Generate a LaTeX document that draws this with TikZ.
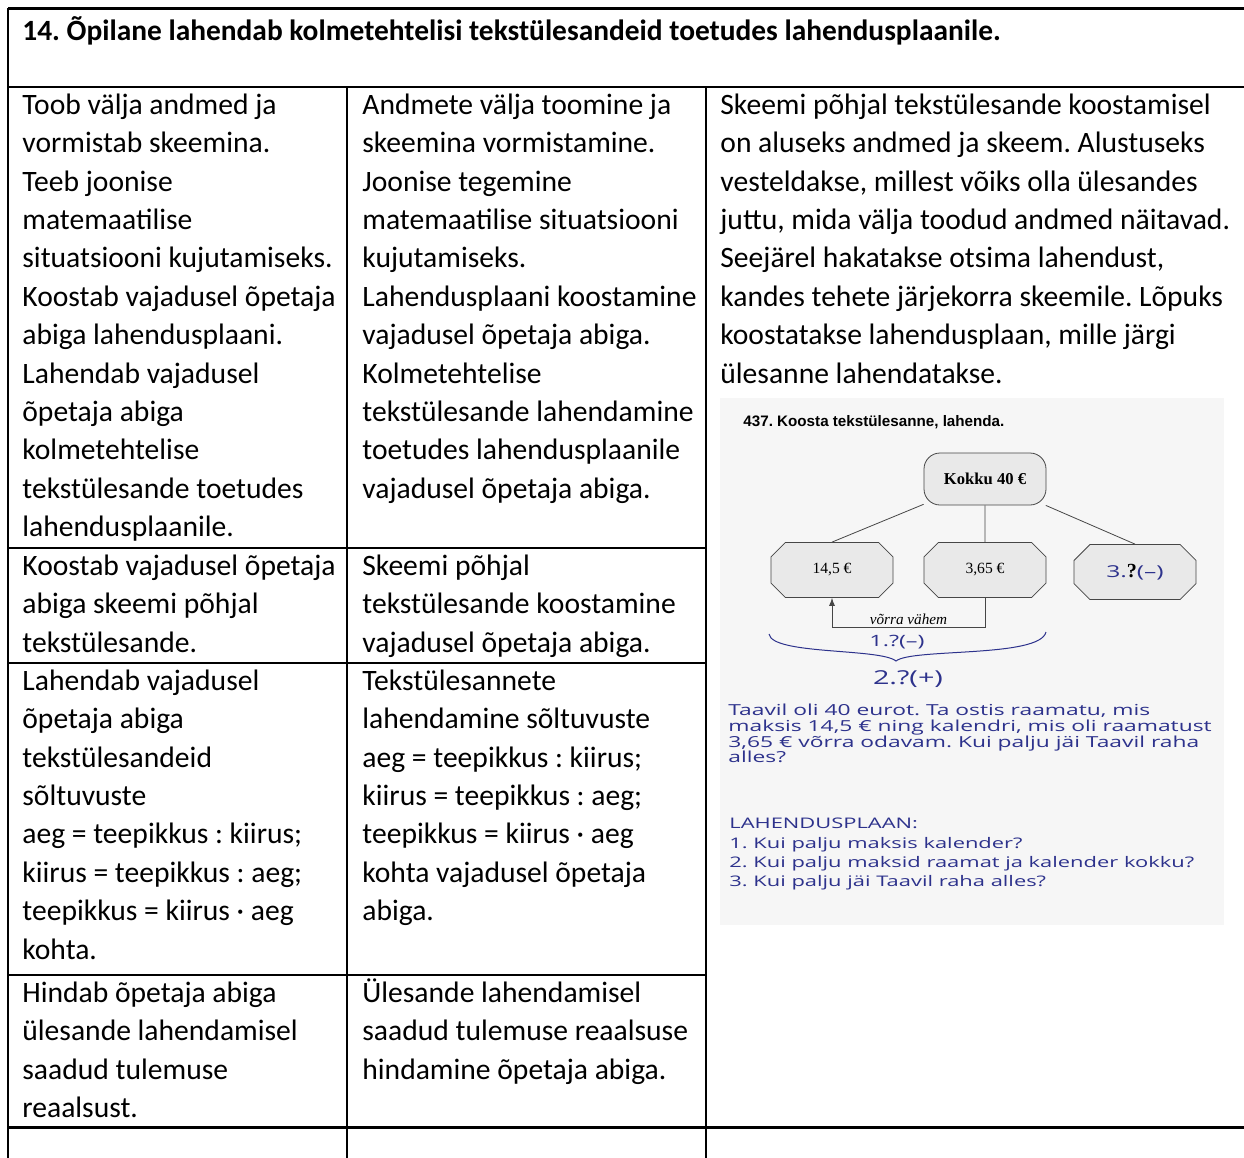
\documentclass[tikz,border=0pt]{standalone}
\usepackage{fontspec}
\setmainfont{Carlito}
\newfontfamily\bookfont{Liberation Serif}
\newfontfamily\printfont{Liberation Sans}
\newfontfamily\handfont[FakeStretch=1.5]{Open Sans}
\usetikzlibrary{shapes.misc}
\definecolor{ink}{RGB}{45,50,140}
\definecolor{scan}{RGB}{246,246,246}
\definecolor{boxgray}{RGB}{233,233,233}
\definecolor{boxline}{RGB}{70,70,70}
\newcommand\handsize[2]{\handfont\fontsize{#1}{#2}\selectfont\lineskiplimit=-5pt\relax}
\frenchspacing

\begin{document}
\begin{tikzpicture}[x=0.5pt, y=-0.5pt,
    celltext/.style={anchor=north west, inner sep=0pt, align=left,
      font=\fontsize{14.8}{19.2}\selectfont},
    gridline/.style={line width=1pt},
    hand/.style={inner sep=0pt, text=ink, align=left},
    octbox/.style={chamfered rectangle, chamfered rectangle sep=4pt,
      draw=boxline, fill=boxgray, minimum width=61pt, minimum height=27.5pt,
      inner sep=0pt, font=\bookfont\fontsize{7.8}{9}\selectfont}]
  \useasboundingbox (0,0) rectangle (1244,1158);

  % table
  \draw[gridline, line width=1.5pt] (8,8) -- (1244,8);
  \draw[gridline] (8,8) -- (8,1158);
  \draw[gridline] (8,87) -- (1244,87);
  \draw[gridline] (347,87) -- (347,1158);
  \draw[gridline] (706,87) -- (706,1158);
  \draw[gridline] (8,548) -- (706,548);
  \draw[gridline] (8,663) -- (706,663);
  \draw[gridline] (8,975) -- (706,975);
  \draw[gridline, line width=1.5pt] (8,1127) -- (1244,1127);

  \node (title) [anchor=base west, inner sep=0pt,
    font=\bfseries\fontsize{14.7}{19.2}\selectfont] at (22,40)
    {14. Õpilane lahendab kolmetehtelisi tekstülesandeid toetudes lahendusplaanile.};

  \node (skillA) [celltext] at (22,87) {\strut Toob välja andmed ja\\
    vormistab skeemina.\\ Teeb joonise\\ matemaatilise\\
    situatsiooni kujutamiseks.\\ Koostab vajadusel õpetaja\\
    abiga lahendusplaani.\\ Lahendab vajadusel\\ õpetaja abiga\\
    kolmetehtelise\\ tekstülesande toetudes\\ lahendusplaanile.};
  \node (workA) [celltext] at (362,87) {\strut Andmete välja toomine ja\\
    skeemina vormistamine.\\ Joonise tegemine\\
    matemaatilise situatsiooni\\ kujutamiseks.\\
    Lahendusplaani koostamine\\ vajadusel õpetaja abiga.\\
    Kolmetehtelise\\ tekstülesande lahendamine\\
    toetudes lahendusplaanile\\ vajadusel õpetaja abiga.};
  \node (note) [celltext] at (720,87) {\strut Skeemi põhjal tekstülesande koostamisel\\
    on aluseks andmed ja skeem. Alustuseks\\
    vesteldakse, millest võiks olla ülesandes\\
    juttu, mida välja toodud andmed näitavad.\\
    Seejärel hakatakse otsima lahendust,\\
    kandes tehete järjekorra skeemile. Lõpuks\\
    koostatakse lahendusplaan, mille järgi\\
    ülesanne lahendatakse.};

  \node (skillB) [celltext] at (22,548) {\strut Koostab vajadusel õpetaja\\
    abiga skeemi põhjal\\ tekstülesande.};
  \node (workB) [celltext] at (362,548) {\strut Skeemi põhjal\\
    tekstülesande koostamine\\ vajadusel õpetaja abiga.};

  \node (skillC) [celltext] at (22,663) {\strut Lahendab vajadusel\\
    õpetaja abiga\\ tekstülesandeid\\ sõltuvuste\\
    aeg = teepikkus : kiirus;\\ kiirus = teepikkus : aeg;\\
    teepikkus = kiirus · aeg\\ kohta.};
  \node (workC) [celltext] at (362,663) {\strut Tekstülesannete\\
    lahendamine sõltuvuste\\ aeg = teepikkus : kiirus;\\
    kiirus = teepikkus : aeg;\\ teepikkus = kiirus · aeg\\
    kohta vajadusel õpetaja\\ abiga.};

  \node (skillD) [celltext] at (22,975) {\strut Hindab õpetaja abiga\\
    ülesande lahendamisel\\ saadud tulemuse\\ reaalsust.};
  \node (workD) [celltext] at (362,975) {\strut Ülesande lahendamisel\\
    saadud tulemuse reaalsuse\\ hindamine õpetaja abiga.};

  % scanned example
  \fill[scan] (720,398) rectangle (1224,925);
  \node (task) [anchor=base west, inner sep=0pt,
    font=\printfont\bfseries\fontsize{7.6}{9}\selectfont] at (743,426)
    {437. Koosta tekstülesanne, lahenda.};

  \node (total) [draw=boxline, fill=boxgray, rounded corners=8pt,
    minimum width=61pt, minimum height=26pt,
    font=\bookfont\bfseries\fontsize{8.3}{10}\selectfont] at (985,479) {Kokku 40 €};
  \node (book) [octbox] at (832,570) {14,5 €};
  \node (cal) [octbox] at (985,570) {3,65 €};
  \node (rest) [octbox] at (1135,572)
    {{\color{ink}\handsize{8.2}{11}3.}%
     {\bookfont\bfseries\fontsize{10}{12}\selectfont ?}%
     {\color{ink}\handsize{8.2}{11}(–)}};

  \draw[boxline] (total) -- (book.north);
  \draw[boxline] (total) -- (cal);
  \draw[boxline] (total) -- (rest.north);
  \draw[boxline, -latex] (cal.south) -- ++(0,29)
    -| node (less) [pos=0.25, above, inner sep=1pt, text=black,
      font=\bookfont\itshape\fontsize{7.6}{9}\selectfont] {võrra vähem} (book.south);

  \node (stepone) [hand, font=\handsize{7.8}{10}] at (897,642) {1.?(–)};
  \draw[ink, line width=0.5pt] (769,634) .. controls (772,655) and (880,648) .. (896,661)
    .. controls (912,648) and (1040,658) .. (1046,632);
  \node (steptwo) [hand, font=\handsize{9.6}{12}] at (908,679) {2.?(+)};

  \node (story) [hand, anchor=north west, font=\handsize{7.6}{7.8}] at (728,704)
    {\strut Taavil oli 40 eurot. Ta ostis raamatu, mis\\
    maksis 14,5 € ning kalendri, mis oli raamatust\\
    3,65 € võrra odavam. Kui palju jäi Taavil raha\\
    alles?};
  \node (plan) [hand, anchor=north west, font=\handsize{7.3}{9.65}] at (729,815)
    {\strut LAHENDUSPLAAN:\\
    1. Kui palju maksis kalender?\\
    2. Kui palju maksid raamat ja kalender kokku?\\
    3. Kui palju jäi Taavil raha alles?};
\end{tikzpicture}
\end{document}
